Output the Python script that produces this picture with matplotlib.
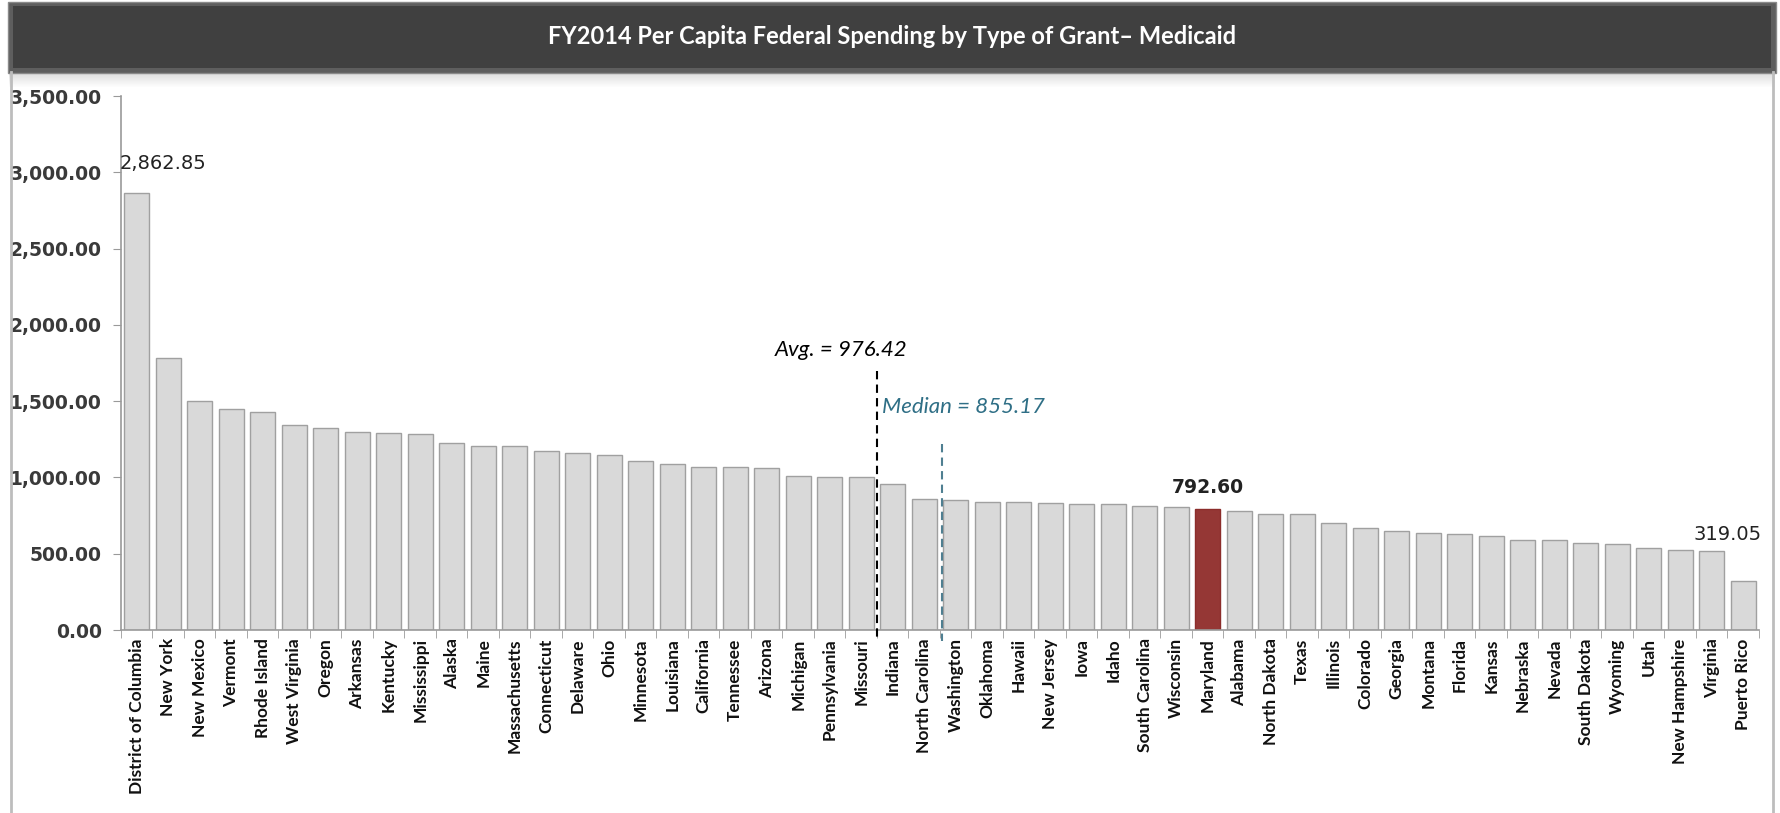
import matplotlib
matplotlib.use("Agg")
import matplotlib.pyplot as plt
from matplotlib.patches import Rectangle
from matplotlib.lines import Line2D
import numpy as np

states = ["District of Columbia", "New York", "New Mexico", "Vermont", "Rhode Island",
          "West Virginia", "Oregon", "Arkansas", "Kentucky", "Mississippi", "Alaska",
          "Maine", "Massachusetts", "Connecticut", "Delaware", "Ohio", "Minnesota",
          "Louisiana", "California", "Tennessee", "Arizona", "Michigan", "Pennsylvania",
          "Missouri", "Indiana", "North Carolina", "Washington", "Oklahoma", "Hawaii",
          "New Jersey", "Iowa", "Idaho", "South Carolina", "Wisconsin", "Maryland",
          "Alabama", "North Dakota", "Texas", "Illinois", "Colorado", "Georgia",
          "Montana", "Florida", "Kansas", "Nebraska", "Nevada", "South Dakota",
          "Wyoming", "Utah", "New Hampshire", "Virginia", "Puerto Rico"]
values = [2862.85, 1780, 1500, 1448, 1428, 1345, 1323, 1301, 1290, 1284, 1227,
          1209, 1203, 1174, 1157, 1148, 1105, 1085, 1067, 1067, 1062, 1009, 1003,
          1003, 955, 855.5, 854.84, 841, 841, 834, 825, 825, 810, 803, 792.60,
          782, 762, 762, 699, 669, 647, 638, 630, 617, 593, 593, 567,
          562, 539, 525, 515, 319.05]
highlight = "Maryland"
avg_value = 976.42
median_value = 855.17
yticks = [0, 500, 1000, 1500, 2000, 2500, 3000, 3500]
title = "FY2014 Per Capita Federal Spending by Type of Grant\u2013 Medicaid"

W, H = 1781, 813
fig = plt.figure(figsize=(W / 100, H / 100), dpi=100)
fig.patch.set_facecolor("white")

def fx(px):
    return px / W

def fy(py):
    return 1 - py / H

# frame side lines
fig.add_artist(Line2D([fx(11), fx(11)], [fy(72), fy(813)], color="#bdbdbd", lw=2))
fig.add_artist(Line2D([fx(1773), fx(1773)], [fy(72), fy(813)], color="#bdbdbd", lw=2))

# shadow under title bar
for i in range(14):
    a = 0.32 * (1 - i / 14)
    fig.add_artist(Rectangle((fx(9), fy(73 + i + 1)), fx(1766), 1 / H,
                             facecolor=(0.6, 0.6, 0.6, a), edgecolor="none"))

# title bar
fig.add_artist(Rectangle((fx(8), fy(73)), fx(1768), 71 / H,
                         facecolor="#5e5e5e", edgecolor="#8a8a8a", lw=1))
fig.add_artist(Rectangle((fx(13), fy(68)), fx(1758), 62 / H,
                         facecolor="#404040", edgecolor="none"))
fig.text(fx(892), fy(37), title, color="white", fontsize=17, fontweight="bold",
         family="Lato", ha="center", va="center")

ax = fig.add_axes([fx(121), fy(630), fx(1759 - 121), (630 - 96) / H])
x = np.arange(len(states))
colors = ["#953735" if s == highlight else "#d9d9d9" for s in states]
edges = ["#8c2d2b" if s == highlight else "#a0a0a0" for s in states]
ax.bar(x, values, width=0.8, color=colors, edgecolor=edges, linewidth=1.0, zorder=2)

ax.set_xlim(-0.5, len(states) - 0.5)
ax.set_ylim(0, 3500)
ax.set_yticks(yticks)
ax.set_yticklabels([f"{v:,.2f}" for v in yticks], fontsize=13.5, fontweight="bold",
                   color="#3a3a3a", family="DejaVu Sans")
ax.set_xticks(x)
ax.set_xticklabels(states, rotation=90, fontsize=12.5, fontweight="bold",
                   family="Lato", color="#111111")
ax.tick_params(axis="x", length=0, pad=6)
ax.set_xticks(np.arange(-0.5, len(states), 1.0), minor=True)
ax.tick_params(axis="x", which="minor", length=6, color="#9a9a9a", direction="out")
ax.tick_params(axis="y", length=5.7, color="#9a9a9a", direction="out", pad=8)
for s in ["top", "right"]:
    ax.spines[s].set_visible(False)
for s in ["left", "bottom"]:
    ax.spines[s].set_color("#9a9a9a")
    ax.spines[s].set_linewidth(1.2)

# data labels
ax.text(-0.55, 3060, f"{values[0]:,.2f}", ha="left", va="center", fontsize=14,
        color="#222222", family="DejaVu Sans")
mi = states.index(highlight)
ax.text(mi, 935, f"{values[mi]:,.2f}", ha="center", va="center", fontsize=13.5,
        fontweight="bold", color="#222222", family="DejaVu Sans")
ax.text(50.5, 625, f"{values[-1]:,.2f}", ha="center", va="center", fontsize=14,
        color="#222222", family="DejaVu Sans")

# average and median lines
ax.plot([23.5, 23.5], [1700, -60], ls=(0, (4, 2.5)), color="black", lw=1.5,
        clip_on=False, zorder=3)
ax.text(22.35, 1836, f"Avg. = {avg_value:.2f}", ha="center", va="center",
        fontsize=16, style="italic", color="black", family="Lato")
ax.plot([25.55, 25.55], [1222, -70], ls=(0, (4, 2.5)), color="#4f7f91", lw=1.5,
        clip_on=False, zorder=3)
ax.text(23.65, 1463, f"Median = {median_value:.2f}", ha="left", va="center",
        fontsize=16, style="italic", color="#2f6f86", family="Lato")

fig.savefig("out.png", dpi=100, facecolor="white")
